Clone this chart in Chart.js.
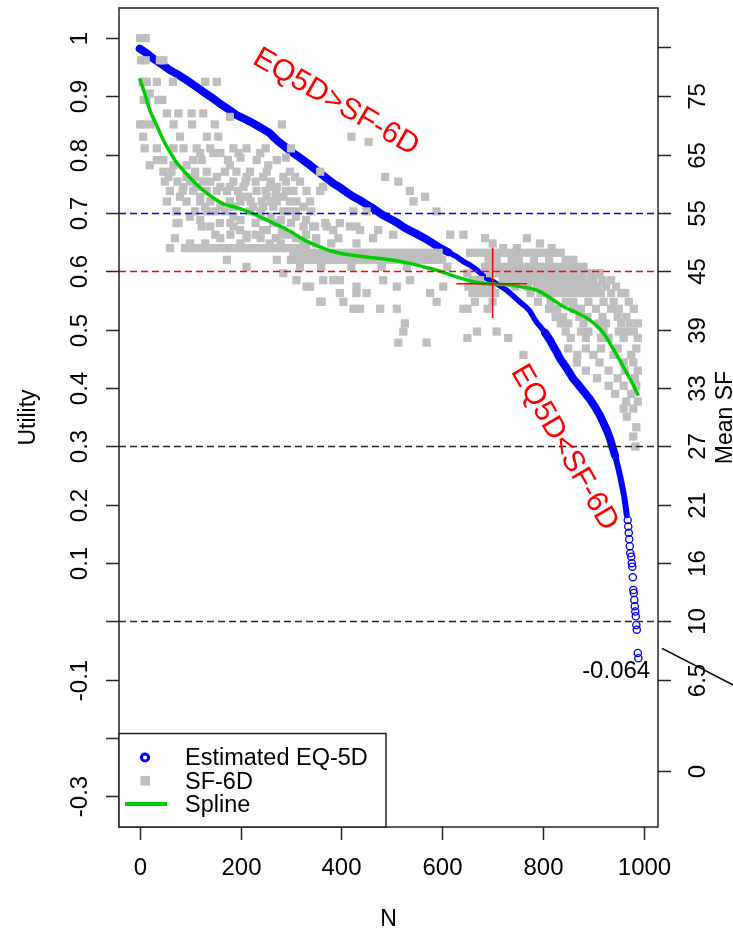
<!DOCTYPE html>
<html>
<head>
<meta charset="utf-8">
<title>Estimated EQ-5D vs SF-6D</title>
<script src="https://cdn.jsdelivr.net/npm/chart.js@4.4.1/dist/chart.umd.min.js"></script>
<style>
  html, body { margin: 0; padding: 0; background: #fff; }
  #wrap { width: 733px; height: 934px; }
</style>
</head>
<body>
<div id="wrap"><canvas id="grafico" width="733" height="934"></canvas></div>
<script>
// assi
var xTicks = [0, 200, 400, 600, 800, 1000];
var yTicks = [1, 0.9, 0.8, 0.7, 0.6, 0.5, 0.4, 0.3, 0.2, 0.1, 0, -0.1, -0.2, -0.3];
var yLabels = ["1", "0.9", "0.8", "0.7", "0.6", "0.5", "0.4", "0.3", "0.2", "0.1", "", "-0.1", "", "-0.3"];
// asse destro: Mean SF (posizione sulla scala Utility -> etichetta)
var sfTickPos = [0.985, 0.9, 0.8, 0.7, 0.6, 0.5, 0.4, 0.3, 0.2, 0.1, 0, -0.1, -0.256];
var sfTickLabels = ["", "75", "65", "55", "45", "39", "33", "27", "21", "16", "10", "6.5", "0"];

// linee di riferimento
var refLines = [0.7, 0.6, 0.3, 0];

// Estimated EQ-5D, banda densa (ordinata) e coda con punti isolati
var eqBand = [
  [0,0.982],[14,0.974],[27,0.965],[44,0.955],[60,0.945],[77,0.937],[93,0.928],[110,0.918],
  [126,0.908],[143,0.898],[159,0.888],[176,0.878],[192,0.868],[209,0.861],[225,0.854],[241,0.846],
  [258,0.837],[272,0.825],[285,0.816],[298,0.807],[318,0.795],[338,0.782],[360,0.767],[384,0.751],
  [397,0.744],[410,0.736],[424,0.728],[437,0.722],[450,0.715],[463,0.708],[480,0.698],[497,0.690],
  [510,0.684],[523,0.676],[536,0.670],[550,0.664],[563,0.658],[580,0.649],[596,0.640],[612,0.633],
  [629,0.625],[642,0.617],[655,0.611],[668,0.603],[688,0.588],[702,0.582],[715,0.575],[728,0.568],
  [742,0.557],[755,0.547],[765,0.540],[774,0.532],[782,0.520],[788,0.512],[794,0.506],[804,0.495],
  [814,0.482],[820,0.472],[827,0.462],[834,0.450],[847,0.434],[860,0.416],[867,0.409],[880,0.395],
  [893,0.381],[903,0.368],[913,0.353],[920,0.340],[927,0.327],[933,0.313],[938,0.298],[943,0.284],
  [948,0.267],[953,0.249],[957,0.232],[961,0.214],[964,0.196],[966,0.182]
];
var eqTail = [
  [968,0.174],[969,0.163],[970,0.152],[971,0.141],[972,0.129],[973,0.117],[975,0.111],[976,0.100],
  [977,0.094],[978,0.076],[979,0.054],[980,0.049],[981,0.037],[982,0.026],[983,0.017],[984,0.009],
  [985,-0.006],[986,-0.014],[988,-0.054],[989,-0.063]
];

// SF-6D: righe [utility, [N ...]]
var sf6dRows = [
  [1.000, [1, 12]],
  [0.962, [3, 12, 40, 47]],
  [0.925, [6, 14, 34, 66, 130, 153]],
  [0.905, [20]],
  [0.894, [8, 14, 37, 45]],
  [0.871, [54, 77, 103, 126]],
  [0.865, [179]],
  [0.852, [1, 7, 22, 67, 104, 149, 282]],
  [0.831, [7, 80, 133, 156, 420]],
  [0.822, [454]],
  [0.811, [10, 34, 67, 87, 113, 140, 186, 212, 250, 300]],
  [0.803, [120, 146, 160, 196, 239]],
  [0.795, [200, 290]],
  [0.791, [34, 47, 106, 123, 175, 232, 272]],
  [0.782, [20, 67, 93, 179, 255]],
  [0.771, [47, 63, 110, 133, 169, 192, 219, 252, 298, 358]],
  [0.762, [57, 93, 110, 153, 212, 245, 285, 308, 487]],
  [0.754, [50, 75, 100, 126, 140, 186, 210, 230, 260, 290, 318, 513]],
  [0.745, [87, 113, 160, 179, 206, 258, 272, 364]],
  [0.738, [60, 85, 106, 133, 153, 173, 195, 232, 250, 270, 290, 305, 331, 358, 536]],
  [0.728, [80, 120, 199, 215, 252, 270, 285, 566]],
  [0.720, [54, 93, 120, 140, 179, 200, 220, 242, 260, 272, 298, 311, 338, 543]],
  [0.711, [130, 160, 186, 225, 245, 265, 325]],
  [0.703, [73, 110, 133, 150, 170, 219, 240, 285, 300, 310, 340, 424, 450, 589]],
  [0.694, [100, 186, 240, 260, 310]],
  [0.688, [120, 200, 280, 330]],
  [0.683, [73, 77, 159, 180, 230, 265, 300, 368, 397]],
  [0.677, [123, 140, 186, 325, 344, 348, 371, 417, 430]],
  [0.671, [199, 245, 252, 282, 384, 437, 473]],
  [0.663, [150, 180, 212, 230, 285, 300, 330, 503, 616, 642]],
  [0.657, [70, 160, 212, 240, 270, 310, 350, 394, 463, 685, 768]],
  [0.648, [100, 130, 200, 258, 280, 325, 350, 380, 430, 700, 794]],
  [0.640, [60, 90, 100, 110, 120, 130, 140, 150, 160, 170, 180, 190, 200, 210, 220, 230, 240, 250,
           260, 270, 280, 290, 300, 310, 320, 330, 721, 748, 817]],
  [0.632, [305, 317, 329, 341, 353, 365, 377, 389, 401, 413, 425, 437, 449, 461, 473, 485, 497, 509,
           521, 533, 545, 557, 569, 581, 593, 655, 670, 685, 700, 715, 730, 745, 760, 775, 790, 805,
           820, 835]],
  [0.620, [173, 272, 300, 312, 324, 336, 348, 360, 372, 384, 396, 408, 420, 432, 444, 456, 468, 480,
           492, 504, 516, 528, 540, 552, 564, 576, 588, 600, 692, 708, 738, 752, 782, 812, 845, 860]],
  [0.608, [212, 318, 360, 420, 480, 530, 610, 685, 700, 715, 730, 745, 760, 775, 790, 805, 820, 835,
           850, 865, 880]],
  [0.597, [285, 650, 695, 712, 728, 742, 758, 772, 788, 802, 818, 832, 848, 862, 878, 895, 912]],
  [0.585, [311, 364, 384, 397, 483, 536, 660, 675, 720, 735, 750, 765, 780, 795, 810, 825, 840, 855,
           870, 885, 900, 918, 935]],
  [0.574, [331, 338, 430, 510, 602, 652, 668, 682, 698, 745, 770, 788, 803, 818, 832, 848, 862, 878,
           893, 908, 925, 945]],
  [0.563, [397, 430, 450, 576, 660, 675, 690, 705, 775, 795, 810, 825, 840, 855, 870, 885, 900, 915,
           935, 955, 963]],
  [0.548, [358, 361, 404, 589, 665, 700, 790, 815, 845, 860, 890, 920, 940, 970]],
  [0.536, [424, 437, 477, 510, 642, 650, 690, 812, 828, 860, 875, 905, 935, 950, 980]],
  [0.522, [825, 840, 872, 888, 918, 948, 965]],
  [0.511, [526, 835, 850, 880, 910, 925, 955, 972, 988]],
  [0.497, [523, 669, 708, 845, 875, 890, 920, 950, 965, 980]],
  [0.486, [650, 731, 855, 885, 915, 930, 960, 988]],
  [0.478, [513, 569]],
  [0.468, [850, 885, 915, 948, 985]],
  [0.457, [761, 868, 900, 940, 975]],
  [0.444, [867, 912, 960, 979]],
  [0.430, [885, 930, 962, 988]],
  [0.417, [907, 948, 982]],
  [0.404, [930, 960, 985]],
  [0.390, [943, 975]],
  [0.377, [965, 988]],
  [0.365, [960, 979]],
  [0.351, [966]],
  [0.333, [985]],
  [0.317, [979]],
  [0.300, [983]]
];

// spline
var spline = [
  [0,0.931],[10,0.905],[20,0.877],[35,0.848],[47,0.825],[60,0.805],[73,0.787],[90,0.770],
  [106,0.755],[125,0.740],[146,0.726],[166,0.716],[186,0.711],[205,0.706],[225,0.699],[245,0.691],
  [265,0.683],[285,0.675],[300,0.668],[318,0.658],[338,0.649],[358,0.642],[380,0.635],[404,0.630],
  [430,0.627],[457,0.624],[497,0.620],[540,0.613],[563,0.608],[600,0.599],[635,0.589],[670,0.581],
  [702,0.578],[730,0.577],[755,0.574],[775,0.571],[790,0.567],[810,0.557],[840,0.540],[865,0.530],
  [887,0.520],[905,0.508],[920,0.494],[940,0.466],[952,0.448],[966,0.426],[978,0.407],[989,0.387]
];

// croce rossa (media)
var crossH = [[628,0.579],[768,0.579]];
var crossV = [[700,0.520],[700,0.641]];

// etichette
var noteHigh = { text: "EQ5D>SF-6D", n: 389, u: 0.890 };
var noteLow = { text: "EQ5D<SF-6D", n: 842, u: 0.298 };
var minNote = { text: "-0.064", n: 945, u: -0.086 };
var pointer = [[1036,-0.046],[1200,-0.119]];

var FONT = '"Liberation Sans", Arial, Helvetica, sans-serif';

function toPoints(pairs){
  return pairs.map(function(p){ return { x: p[0], y: p[1] }; });
}

function sfPoints(){
  var out = [];
  sf6dRows.forEach(function(r){
    r[1].forEach(function(n){ out.push({ x: n, y: r[0] }); });
  });
  return out;
}

function rotText(ctx, txt, px, py, ang, align, base){
  ctx.save();
  ctx.translate(px, py);
  ctx.rotate(ang);
  ctx.textAlign = align;
  ctx.textBaseline = base;
  ctx.fillText(txt, 0, 0);
  ctx.restore();
}

// banda blu piu' sottile dove i punti sono radi (tra 600 e 800)
function bandWidth(c){
  var n = c.p0.parsed.x;
  if (n >= 600 && n < 800) return 5.5;
  if (n >= 940) return 6;
  return 8;
}

var decorazioni = {
  id: 'decorazioni',
  afterDatasetsDraw: function(chart){
    var ctx = chart.ctx, a = chart.chartArea;
    var sx = chart.scales.x, sy = chart.scales.y, sy2 = chart.scales.y2;
    var refColors = ['#0000ff', '#ff0000', '#222222', '#222222'];
    var i, py, px;

    ctx.save();

    // linee tratteggiate
    ctx.lineWidth = 1.3;
    ctx.setLineDash([7, 4]);
    for (i = 0; i < refLines.length; i++) {
      py = Math.round(sy.getPixelForValue(refLines[i])) + 0.5;
      ctx.strokeStyle = refColors[i];
      ctx.beginPath(); ctx.moveTo(a.left, py); ctx.lineTo(a.right, py); ctx.stroke();
    }
    ctx.setLineDash([]);

    // riquadro
    ctx.strokeStyle = '#222';
    ctx.lineWidth = 1.5;
    ctx.strokeRect(a.left, a.top, a.right - a.left, a.bottom - a.top);

    // asse x
    ctx.fillStyle = '#000';
    ctx.font = '24px ' + FONT;
    ctx.textAlign = 'center';
    ctx.textBaseline = 'middle';
    for (i = 0; i < xTicks.length; i++) {
      px = Math.round(sx.getPixelForValue(xTicks[i])) + 0.5;
      ctx.beginPath(); ctx.moveTo(px, a.bottom); ctx.lineTo(px, a.bottom + 13); ctx.stroke();
      ctx.fillText(String(xTicks[i]), px, a.bottom + 41);
    }
    ctx.font = '23px ' + FONT;
    ctx.fillText('N', (a.left + a.right) / 2, a.bottom + 93);

    // asse sinistro (Utility)
    ctx.font = '24px ' + FONT;
    for (i = 0; i < yTicks.length; i++) {
      py = Math.round(sy.getPixelForValue(yTicks[i])) + 0.5;
      ctx.beginPath(); ctx.moveTo(a.left, py); ctx.lineTo(a.left - 13, py); ctx.stroke();
      if (yLabels[i]) rotText(ctx, yLabels[i], a.left - 39, py, -Math.PI / 2, 'center', 'middle');
    }
    ctx.font = '23px ' + FONT;
    rotText(ctx, 'Utility', 35, (a.top + a.bottom) / 2, -Math.PI / 2, 'center', 'alphabetic');

    // asse destro (Mean SF)
    ctx.font = '24px ' + FONT;
    for (i = 0; i < sfTickPos.length; i++) {
      py = Math.round(sy2.getPixelForValue(sfTickPos[i])) + 0.5;
      ctx.beginPath(); ctx.moveTo(a.right, py); ctx.lineTo(a.right + 13, py); ctx.stroke();
      if (sfTickLabels[i]) rotText(ctx, sfTickLabels[i], a.right + 40, py, -Math.PI / 2, 'center', 'middle');
    }
    ctx.font = '23px ' + FONT;
    rotText(ctx, 'Mean SF', 732, (a.top + a.bottom) / 2, -Math.PI / 2, 'center', 'alphabetic');

    // scritte rosse
    ctx.fillStyle = '#ff0000';
    ctx.font = '30px ' + FONT;
    rotText(ctx, noteHigh.text, sx.getPixelForValue(noteHigh.n), sy.getPixelForValue(noteHigh.u), Math.PI / 6, 'center', 'middle');
    rotText(ctx, noteLow.text, sx.getPixelForValue(noteLow.n), sy.getPixelForValue(noteLow.u), Math.PI / 3, 'center', 'middle');

    // minimo
    ctx.fillStyle = '#000';
    ctx.font = '24px ' + FONT;
    ctx.textAlign = 'center';
    ctx.textBaseline = 'middle';
    ctx.fillText(minNote.text, sx.getPixelForValue(minNote.n), sy.getPixelForValue(minNote.u));

    ctx.strokeStyle = '#000';
    ctx.lineWidth = 1.5;
    ctx.beginPath();
    ctx.moveTo(sx.getPixelForValue(pointer[0][0]), sy.getPixelForValue(pointer[0][1]));
    ctx.lineTo(sx.getPixelForValue(pointer[1][0]), sy.getPixelForValue(pointer[1][1]));
    ctx.stroke();

    // legenda
    var lx = a.left, ly = a.bottom - 93.5, lw = 267;
    ctx.fillStyle = '#fff';
    ctx.fillRect(lx, ly, lw, 93.5);
    ctx.strokeStyle = '#222';
    ctx.lineWidth = 1.5;
    ctx.strokeRect(lx, ly, lw, 93.5);

    ctx.strokeStyle = '#0000ff';
    ctx.lineWidth = 3;
    ctx.beginPath(); ctx.arc(lx + 26, ly + 24, 3.6, 0, Math.PI * 2); ctx.stroke();

    ctx.fillStyle = '#bebebe';
    ctx.fillRect(lx + 21.5, ly + 42.5, 9.5, 9.5);

    ctx.strokeStyle = '#00cd00';
    ctx.lineWidth = 4;
    ctx.beginPath(); ctx.moveTo(lx + 6, ly + 70.5); ctx.lineTo(lx + 48, ly + 70.5); ctx.stroke();

    ctx.fillStyle = '#000';
    ctx.font = '23.5px ' + FONT;
    ctx.textAlign = 'left';
    ctx.textBaseline = 'middle';
    ctx.fillText('Estimated EQ-5D', lx + 66, ly + 25);
    ctx.fillText('SF-6D', lx + 66, ly + 49.5);
    ctx.fillText('Spline', lx + 66, ly + 72);

    ctx.restore();
  }
};

function drawChart(){
  var ctx = document.getElementById('grafico').getContext('2d');
  var yMin = -0.3523, yMax = 1.0516;

  new Chart(ctx, {
    type: 'scatter',
    data: {
      datasets: [
        {
          label: 'cross-h',
          type: 'line',
          data: toPoints(crossH),
          borderColor: '#ff0000',
          borderWidth: 1.5,
          pointRadius: 0,
          order: -1
        },
        {
          label: 'cross-v',
          type: 'line',
          data: toPoints(crossV),
          borderColor: '#ff0000',
          borderWidth: 1.5,
          pointRadius: 0,
          order: -1
        },
        {
          label: 'Spline',
          type: 'line',
          data: toPoints(spline),
          borderColor: '#00cd00',
          borderWidth: 3.5,
          pointRadius: 0,
          tension: 0.4,
          cubicInterpolationMode: 'monotone',
          order: 0
        },
        {
          label: 'SF-6D',
          data: sfPoints(),
          pointStyle: 'rect',
          pointRadius: 5.8,
          pointBorderWidth: 0,
          backgroundColor: '#bebebe',
          borderColor: '#bebebe',
          order: 1
        },
        {
          label: 'Estimated EQ-5D',
          type: 'line',
          data: toPoints(eqBand),
          borderColor: '#0000ff',
          borderWidth: 8,
          borderCapStyle: 'round',
          segment: { borderWidth: bandWidth },
          pointRadius: 0,
          tension: 0,
          order: 2
        },
        {
          label: 'Estimated EQ-5D (coda)',
          data: toPoints(eqTail),
          pointStyle: 'circle',
          pointRadius: 3.6,
          pointBorderWidth: 1.3,
          borderColor: '#0000ff',
          backgroundColor: 'rgba(0,0,0,0)',
          order: 2
        }
      ]
    },
    options: {
      responsive: false,
      animation: false,
      events: [],
      layout: { padding: { top: 8, left: 0, right: 0, bottom: 0 } },
      plugins: {
        legend: { display: false },
        tooltip: { enabled: false }
      },
      scales: {
        x: {
          type: 'linear',
          position: 'bottom',
          min: -41,
          max: 1028,
          grid: { display: false },
          border: { display: false },
          ticks: { display: false },
          afterFit: function(s){ s.height = 107; }
        },
        y: {
          type: 'linear',
          position: 'left',
          min: yMin,
          max: yMax,
          grid: { display: false },
          border: { display: false },
          ticks: { display: false },
          afterFit: function(s){ s.width = 119; }
        },
        y2: {
          type: 'linear',
          position: 'right',
          min: yMin,
          max: yMax,
          grid: { display: false },
          border: { display: false },
          ticks: { display: false },
          afterFit: function(s){ s.width = 75; }
        }
      }
    },
    plugins: [decorazioni]
  });
}

drawChart();
</script>
</body>
</html>
